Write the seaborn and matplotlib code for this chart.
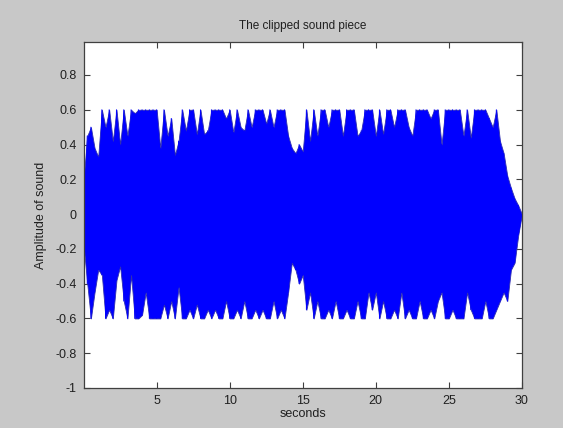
import numpy as np
import pandas as pd
import seaborn as sns
import matplotlib.pyplot as plt

# envelope of the clipped sound, read every 0.25 s
seconds = np.linspace(0, 30, 121)

upper = [0.20, 0.45, 0.50, 0.38, 0.33, 0.60, 0.50, 0.60,
         0.42, 0.60, 0.40, 0.60, 0.45, 0.60, 0.58, 0.60,
         0.60, 0.60, 0.60, 0.60, 0.60, 0.38, 0.60, 0.45,
         0.55, 0.34, 0.42, 0.60, 0.48, 0.60, 0.60, 0.46,
         0.60, 0.46, 0.48, 0.60, 0.60, 0.60, 0.60, 0.55,
         0.60, 0.47, 0.60, 0.50, 0.48, 0.60, 0.50, 0.60,
         0.60, 0.60, 0.52, 0.60, 0.50, 0.60, 0.60, 0.60,
         0.45, 0.38, 0.35, 0.40, 0.36, 0.60, 0.42, 0.60,
         0.45, 0.60, 0.60, 0.50, 0.60, 0.60, 0.60, 0.45,
         0.60, 0.60, 0.60, 0.45, 0.48, 0.60, 0.60, 0.60,
         0.45, 0.60, 0.46, 0.60, 0.60, 0.50, 0.60, 0.60,
         0.60, 0.50, 0.45, 0.60, 0.60, 0.60, 0.60, 0.55,
         0.60, 0.60, 0.40, 0.60, 0.60, 0.60, 0.60, 0.60,
         0.45, 0.60, 0.44, 0.60, 0.60, 0.60, 0.60, 0.55,
         0.50, 0.60, 0.42, 0.35, 0.22, 0.15, 0.09, 0.05,
         0.0]

lower = [-0.18, -0.40, -0.60, -0.45, -0.32, -0.35, -0.60, -0.55,
         -0.60, -0.38, -0.30, -0.50, -0.60, -0.35, -0.60, -0.60,
         -0.58, -0.45, -0.60, -0.60, -0.60, -0.60, -0.52, -0.60,
         -0.50, -0.60, -0.42, -0.60, -0.60, -0.55, -0.60, -0.52,
         -0.60, -0.60, -0.55, -0.60, -0.55, -0.60, -0.60, -0.50,
         -0.60, -0.60, -0.55, -0.60, -0.50, -0.60, -0.60, -0.55,
         -0.60, -0.55, -0.60, -0.60, -0.50, -0.60, -0.55, -0.60,
         -0.45, -0.28, -0.32, -0.40, -0.35, -0.55, -0.45, -0.60,
         -0.50, -0.60, -0.60, -0.55, -0.60, -0.50, -0.60, -0.60,
         -0.55, -0.60, -0.60, -0.50, -0.60, -0.60, -0.45, -0.55,
         -0.45, -0.60, -0.50, -0.60, -0.60, -0.55, -0.60, -0.45,
         -0.60, -0.55, -0.60, -0.60, -0.50, -0.60, -0.60, -0.55,
         -0.60, -0.50, -0.45, -0.60, -0.60, -0.55, -0.60, -0.60,
         -0.60, -0.45, -0.55, -0.60, -0.60, -0.60, -0.50, -0.60,
         -0.60, -0.55, -0.50, -0.45, -0.50, -0.32, -0.28, -0.12,
         0.0]

yticks = [-1, -0.8, -0.6, -0.4, -0.2, 0, 0.2, 0.4, 0.6, 0.8]
ytick_labels = ['-1', '-0.8', '-0.6', '-0.4', '-0.2', '0', '0.2', '0.4', '0.6', '0.8']
xticks = [5, 10, 15, 20, 25, 30]

# waveform: swing from the top of the envelope to the bottom at each step
wave = pd.DataFrame({
    'seconds': np.repeat(seconds, 2),
    'amplitude': np.column_stack([upper, lower]).ravel(),
})

sns.set_style('white')
plt.rcParams['font.family'] = ['Liberation Sans', 'DejaVu Sans']

fig = plt.figure(figsize=(5.63, 4.28), dpi=100, facecolor='#c8c8c8')
ax = fig.add_axes([0.149, 0.0935, 0.778, 0.8085])
ax.set_facecolor('white')

ax.fill_between(seconds, lower, upper, color='#0000ff', linewidth=0.6,
                edgecolor='#3030b0')
sns.lineplot(data=wave, x='seconds', y='amplitude', sort=False, estimator=None,
             color='#0000ff', linewidth=0.7, ax=ax)

ax.set_xlim(0.02, 30)
ax.set_ylim(-1, 0.99)
ax.set_xticks(xticks)
ax.set_xticklabels([str(x) for x in xticks])
ax.set_yticks(yticks)
ax.set_yticklabels(ytick_labels)

ax.tick_params(direction='in', length=4, width=0.8, colors='#404040',
               labelcolor='#202020', labelsize=9, top=True, right=True,
               bottom=True, left=True, pad=5)
for s in ax.spines.values():
    s.set_color('#404040')
    s.set_linewidth(0.9)
    s.set_visible(True)

ax.set_title('The clipped sound piece', fontsize=8.5, color='#202020', pad=9)
ax.set_xlabel('seconds', fontsize=9, color='#202020', labelpad=1)
ax.set_ylabel('Amplitude of sound', fontsize=9, color='#202020', labelpad=6)

fig.savefig('out.png', dpi=100, facecolor=fig.get_facecolor())
